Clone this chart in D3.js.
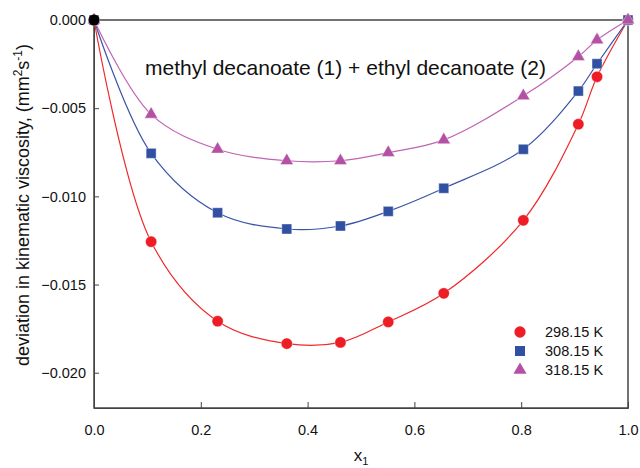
<!DOCTYPE html>
<html>
<head>
<meta charset="utf-8">
<script src="https://cdn.jsdelivr.net/npm/d3@7"></script>
<style>
    body { margin: 0; background: #fff; }
    text { font-family: "Liberation Sans", Arial, sans-serif; fill: #111; }
    .axis path, .axis line { stroke: #444; }
</style>
</head>
<body>
<div id="box-div"></div>
<script>
// mole fraction of methyl decanoate
const x1 = [0, 0.107, 0.2315, 0.361, 0.4615, 0.551, 0.655, 0.804, 0.907, 0.942, 1.0]

// deviation in kinematic viscosity, mm2 s-1
const dv298 = [0, -0.01257, -0.01708, -0.01835, -0.01828, -0.01712, -0.0155, -0.01136, -0.00591, -0.00322, 0]
const dv308 = [0, -0.00756, -0.01093, -0.01185, -0.01168, -0.01085, -0.00954, -0.00733, -0.00403, -0.00248, 0]
const dv318 = [0, -0.00535, -0.00733, -0.00798, -0.00798, -0.00752, -0.0068, -0.0043, -0.00208, -0.00113, 0]

const seriesNames = ['298.15 K', '308.15 K', '318.15 K']
const xTicks = [0, 0.2, 0.4, 0.6, 0.8, 1.0]
const yTicks = [0, -0.005, -0.01, -0.015, -0.02]

let dms = {
    width: 640,
    height: 468,
    margin: { top: 20, right: 12, bottom: 60, left: 94 }
}
dms.chartWidth = dms.width - dms.margin.left - dms.margin.right
dms.chartHeight = dms.height - dms.margin.top - dms.margin.bottom

const series = [
    { name: seriesNames[0], values: dv298, color: '#ee1c25', line: '#f0282a', symbol: d3.symbolCircle, size: 100 },
    { name: seriesNames[1], values: dv308, color: '#3150a2', line: '#3a55a8', symbol: d3.symbolSquare, size: 100 },
    { name: seriesNames[2], values: dv318, color: '#b451a4', line: '#c064b2', symbol: d3.symbolTriangle, size: 75 }
]

const box = d3.select('#box-div').append('svg')
    .attr('width', dms.width)
    .attr('height', dms.height)

const content = box.append('g')
    .attr('transform', `translate(${dms.margin.left}, ${dms.margin.top})`)

const xScale = d3.scaleLinear().domain([0, 1]).range([0, dms.chartWidth])
const yScale = d3.scaleLinear().domain([-0.022, 0]).range([dms.chartHeight, 0])

// axes, ticks pointing inwards
const xAxis = content.append('g')
    .attr('class', 'axis')
    .attr('transform', `translate(0, ${dms.chartHeight})`)
    .call(d3.axisBottom(xScale).tickValues(xTicks).tickFormat(d3.format('.1f'))
        .tickSizeInner(-6).tickSizeOuter(0).tickPadding(17))
xAxis.selectAll('text').style('font-size', '14.5px')

const yAxis = content.append('g')
    .attr('class', 'axis')
    .call(d3.axisLeft(yScale).tickValues(yTicks).tickFormat(d3.format('.3f'))
        .tickSizeInner(-5).tickSizeOuter(0).tickPadding(8))
yAxis.selectAll('text').style('font-size', '14.5px')

// frame
content.append('rect')
    .attr('width', dms.chartWidth)
    .attr('height', dms.chartHeight)
    .attr('fill', 'none')
    .attr('stroke', '#444')
    .attr('stroke-width', 1.5)

const lineGen = d3.line()
    .x(d => xScale(d[0]))
    .y(d => yScale(d[1]))
    .curve(d3.curveCatmullRom.alpha(0.5))

series.forEach(s => {
    const pts = x1.map((x, i) => [x, s.values[i]])
    content.append('path')
        .datum(pts)
        .attr('d', lineGen)
        .attr('fill', 'none')
        .attr('stroke', s.line)
        .attr('stroke-width', 1.2)
})

series.forEach(s => {
    const pts = x1.map((x, i) => [x, s.values[i]])
    content.append('g').selectAll('path')
        .data(pts)
        .join('path')
        .attr('d', d3.symbol().type(s.symbol).size(s.size))
        .attr('transform', d => `translate(${xScale(d[0])}, ${yScale(d[1])})`)
        .attr('fill', s.color)
        .attr('stroke', '#fff')
        .attr('stroke-width', 0.4)
})

// dark dot where all curves meet at x1 = 0
content.append('circle')
    .attr('cx', xScale(x1[0]))
    .attr('cy', yScale(dv298[0]))
    .attr('r', 5.5)
    .attr('fill', '#000')

// title inside the chart
content.append('text')
    .attr('x', 51)
    .attr('y', 55)
    .style('font-size', '21px')
    .text('methyl decanoate (1) + ethyl decanoate (2)')

// legend
const legend = content.append('g')
    .attr('transform', `translate(${dms.chartWidth - 108}, 312)`)
series.forEach((s, i) => {
    const row = legend.append('g').attr('transform', `translate(0, ${i * 19})`)
    row.append('path')
        .attr('d', d3.symbol().type(s.symbol).size(s.size))
        .attr('fill', s.color)
    row.append('text')
        .attr('x', 25)
        .attr('y', 5)
        .style('font-size', '14.5px')
        .text(s.name)
})

// axis titles
const xTitle = box.append('text')
    .attr('x', dms.margin.left + xScale(0.5))
    .attr('y', 461)
    .attr('text-anchor', 'middle')
    .style('font-size', '17px')
xTitle.append('tspan').text('x')
xTitle.append('tspan').attr('dy', 4).style('font-size', '11px').text('1')

const yTitle = box.append('text')
    .attr('transform', `translate(29, 205) rotate(-90)`)
    .attr('text-anchor', 'middle')
    .style('font-size', '18px')
yTitle.append('tspan').text('deviation in kinematic viscosity, (mm')
yTitle.append('tspan').attr('dy', -7).style('font-size', '12px').text('2')
yTitle.append('tspan').attr('dy', 7).text('s')
yTitle.append('tspan').attr('dy', -7).style('font-size', '12px').text('-1')
yTitle.append('tspan').attr('dy', 7).text(')')
</script>
</body>
</html>
